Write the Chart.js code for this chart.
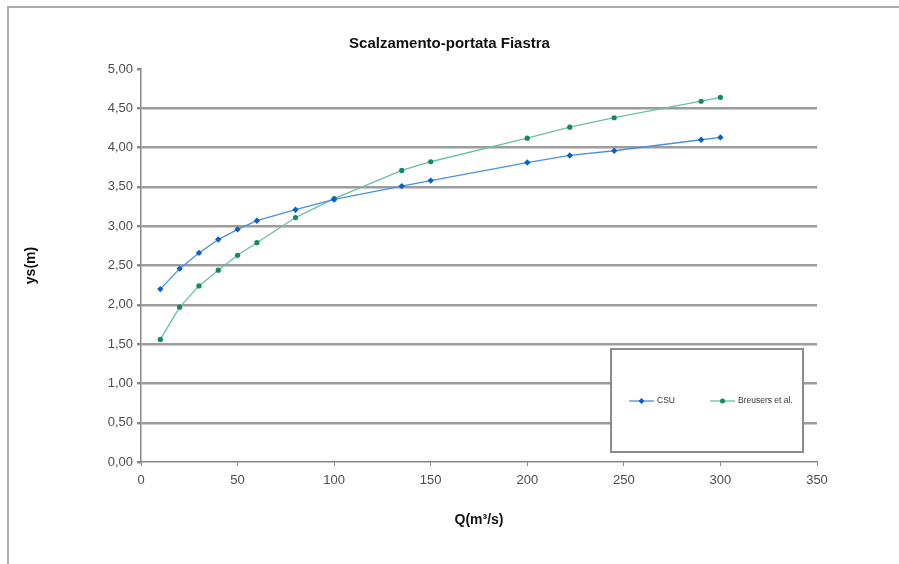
<!DOCTYPE html>
<html lang="it">

<head>
    <meta charset="UTF-8">
    <title>Scalzamento-portata Fiastra</title>
    <script src="https://cdn.jsdelivr.net/npm/chart.js"></script>
    <style>
        body {
            margin: 0;
            background: #ffffff;
        }

        .wrap {
            position: relative;
            width: 899px;
            height: 564px;
            overflow: hidden;
        }

        .frame {
            position: absolute;
            left: 7px;
            top: 6px;
            width: 900px;
            height: 570px;
            border-top: 2px solid #ababab;
            border-left: 2px solid #ababab;
        }

        canvas {
            position: absolute;
            left: 0;
            top: 0;
        }
    </style>
</head>

<body>
    <div class="wrap">
        <div class="frame"></div>
        <canvas id="scourChart" width="899" height="564"></canvas>
    </div>

    <script>
        // portata Q (m3/s)
        const portate = [10, 20, 30, 40, 50, 60, 80, 100, 135, 150, 200, 222, 245, 290, 300];
        // scalzamento ys (m)
        const ysCSU = [2.20, 2.46, 2.66, 2.83, 2.96, 3.07, 3.21, 3.34, 3.51, 3.58, 3.81, 3.90, 3.96, 4.10, 4.13];
        const ysBreusers = [1.56, 1.97, 2.24, 2.44, 2.63, 2.79, 3.11, 3.35, 3.71, 3.82, 4.12, 4.26, 4.38, 4.59, 4.64];
        const seriesNames = ['CSU', 'Breusers et al.'];

        const toPoints = (ys) => portate.map((q, i) => ({ x: q, y: ys[i] }));
        const fmt = (v) => v.toFixed(2).replace('.', ',');
        const FONT = '"Liberation Sans", Arial, sans-serif';

        // legenda dentro il riquadro, come nel grafico Excel
        const boxLegend = {
            id: 'boxLegend',
            afterDraw(chart) {
                const c = chart.ctx;
                c.save();
                c.strokeStyle = '#8c8c8c';
                c.lineWidth = 2;
                c.fillStyle = '#ffffff';
                c.fillRect(611, 349, 192, 103);
                c.strokeRect(611, 349, 192, 103);

                const items = [{ x0: 629 }, { x0: 710 }];
                c.font = '8.5px ' + FONT;
                c.textBaseline = 'middle';
                chart.data.datasets.forEach((ds, i) => {
                    const x0 = items[i].x0, y = 401;
                    c.strokeStyle = ds.borderColor;
                    c.lineWidth = 1.3;
                    c.beginPath();
                    c.moveTo(x0, y);
                    c.lineTo(x0 + 25, y);
                    c.stroke();
                    c.fillStyle = ds.pointBackgroundColor;
                    c.beginPath();
                    if (ds.pointStyle === 'rectRot') {
                        c.moveTo(x0 + 12.5, y - 3);
                        c.lineTo(x0 + 15.5, y);
                        c.lineTo(x0 + 12.5, y + 3);
                        c.lineTo(x0 + 9.5, y);
                    } else {
                        c.arc(x0 + 12.5, y, 2.5, 0, Math.PI * 2);
                    }
                    c.fill();
                    c.fillStyle = '#333333';
                    c.fillText(ds.label, x0 + 28, y);
                });
                c.restore();
            }
        };

        const ctx = document.getElementById('scourChart').getContext('2d');
        const scourChart = new Chart(ctx, {
            type: 'line',
            data: {
                datasets: [{
                    label: seriesNames[0],
                    data: toPoints(ysCSU),
                    borderColor: '#4a8fe0',
                    borderWidth: 1.3,
                    pointStyle: 'rectRot',
                    pointRadius: 3.2,
                    pointBackgroundColor: '#0b5fc9',
                    pointBorderColor: '#0b5fc9',
                    pointBorderWidth: 0,
                    tension: 0
                }, {
                    label: seriesNames[1],
                    data: toPoints(ysBreusers),
                    borderColor: '#6cc09c',
                    borderWidth: 1.3,
                    pointStyle: 'circle',
                    pointRadius: 2.6,
                    pointBackgroundColor: '#13886b',
                    pointBorderColor: '#13886b',
                    pointBorderWidth: 0,
                    tension: 0
                }]
            },
            options: {
                responsive: false,
                animation: false,
                devicePixelRatio: 1,
                layout: {
                    padding: 0
                },
                plugins: {
                    legend: { display: false },
                    tooltip: { enabled: false },
                    title: {
                        display: true,
                        text: 'Scalzamento-portata Fiastra',
                        color: '#111111',
                        font: { family: FONT, size: 15, weight: 'bold', lineHeight: 1.2 },
                        padding: { top: 35, bottom: 16 }
                    }
                },
                scales: {
                    x: {
                        type: 'linear',
                        min: 0,
                        max: 350,
                        afterFit: (s) => { s.height = 102; },
                        ticks: {
                            stepSize: 50,
                            padding: 7,
                            maxRotation: 0,
                            color: '#4d4d4d',
                            font: { family: FONT, size: 13 }
                        },
                        grid: {
                            drawOnChartArea: false,
                            tickLength: 4,
                            tickColor: '#888888'
                        },
                        border: { color: '#888888', width: 1.5 },
                        title: {
                            display: true,
                            text: 'Q(m³/s)',
                            color: '#111111',
                            font: { family: FONT, size: 14, weight: 'bold', lineHeight: 1.2 },
                            padding: { top: 0, bottom: 35 }
                        }
                    },
                    y: {
                        min: 0,
                        max: 5,
                        afterFit: (s) => { s.width = 141; },
                        ticks: {
                            stepSize: 0.5,
                            padding: 4,
                            color: '#4d4d4d',
                            font: { family: FONT, size: 13 },
                            callback: (v) => fmt(v)
                        },
                        grid: {
                            tickLength: 4,
                            tickColor: '#888888',
                            color: (c) => (c.tick.value === 0 || c.tick.value === 5) ? 'rgba(0,0,0,0)' : '#9c9c9c',
                            lineWidth: 2.4
                        },
                        border: { color: '#888888', width: 1.5 },
                        title: {
                            display: true,
                            text: 'ys(m)',
                            color: '#111111',
                            font: { family: FONT, size: 14, weight: 'bold', lineHeight: 1.2 },
                            padding: { top: 23, bottom: 0 }
                        }
                    },
                    // empty right-hand axis, only keeps the margin right of the plot
                    yMargin: {
                        position: 'right',
                        display: true,
                        afterFit: (s) => { s.width = 82; },
                        ticks: { display: false },
                        grid: { display: false },
                        border: { display: false }
                    }
                }
            },
            plugins: [boxLegend]
        });
    </script>

</body>

</html>
